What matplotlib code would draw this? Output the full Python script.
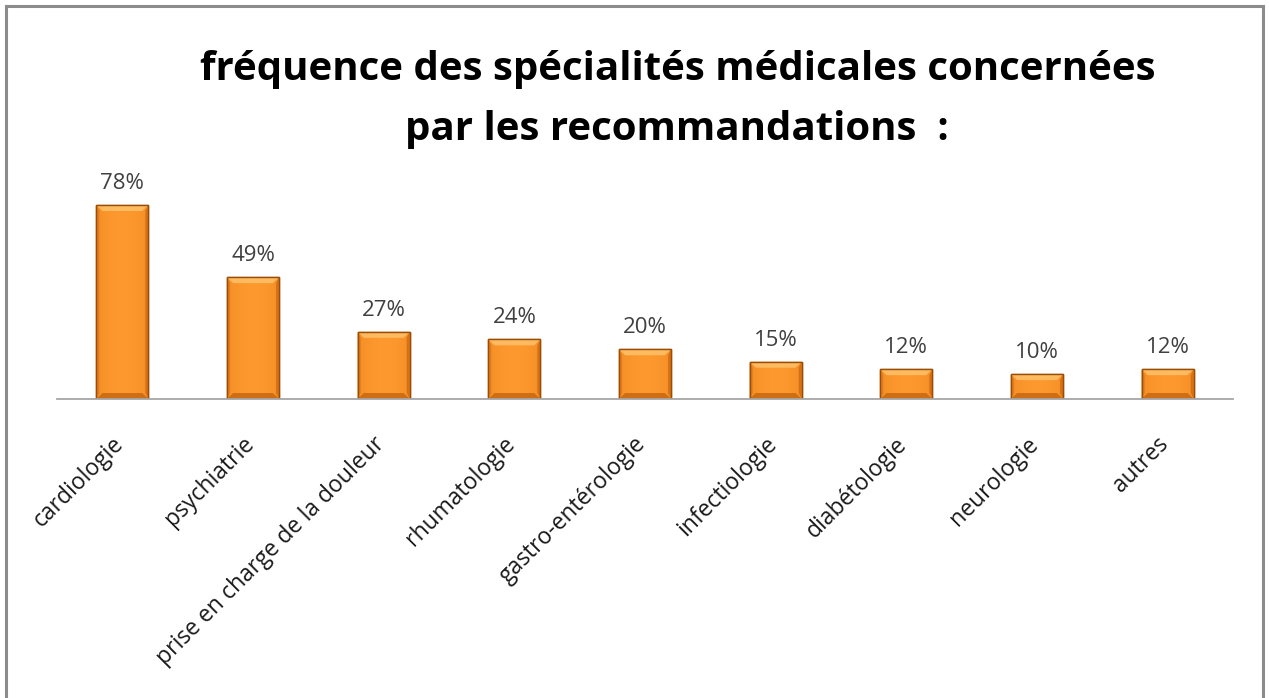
import numpy as np
import matplotlib
matplotlib.use("Agg")
import matplotlib.pyplot as plt
import matplotlib.transforms as mtransforms
from matplotlib.patches import Rectangle, Polygon
from matplotlib.lines import Line2D

categories = ["cardiologie", "psychiatrie", "prise en charge de la douleur",
              "rhumatologie", "gastro-entérologie", "infectiologie",
              "diabétologie", "neurologie", "autres"]
values = [78, 49, 27, 24, 20, 15, 12, 10, 12]
value_labels = ["78%", "49%", "27%", "24%", "20%", "15%", "12%", "10%", "12%"]
title = "fréquence des spécialités médicales concernées\npar les recommandations  :"

W, H = 1269, 698
fig = plt.figure(figsize=(W / 100, H / 100), dpi=100)
fig.patch.set_facecolor("white")

# frame border (left, top, right)
for xs_, ys_ in [([6 / W, 6 / W], [0, 1 - 6 / H]),
                 ([6 / W, 1263 / W], [1 - 6 / H, 1 - 6 / H]),
                 ([1263 / W, 1263 / W], [0, 1 - 6 / H])]:
    fig.add_artist(Line2D(xs_, ys_, transform=fig.transFigure, color="#8c8c8c", lw=2.2))

x0, x1 = 57, 1233
ybase = 399
px_per_unit = 2.487
ymax = 100
ax = fig.add_axes([x0 / W, (H - ybase) / H, (x1 - x0) / W, ymax * px_per_unit / H])
ax.set_xlim(-0.5, len(categories) - 0.5)
ax.set_ylim(0, ymax)
ax.patch.set_alpha(0)
for s in ["top", "right", "left"]:
    ax.spines[s].set_visible(False)
ax.spines["bottom"].set_color("#a6a6a6")
ax.spines["bottom"].set_linewidth(1.3)
ax.set_yticks([])

xs = np.arange(len(categories))
bw = 0.40
bars = ax.bar(xs, values, width=bw, color="#F58F26", edgecolor="#9a4d05",
              linewidth=1.0, zorder=2)

grad = np.linspace(0, 1, 64)
hprof = 1 - 0.35 * (np.abs(grad - 0.5) * 2) ** 2
for b in bars:
    bx, by = b.get_x(), b.get_y()
    bwid, bh = b.get_width(), b.get_height()
    img = np.zeros((2, 64, 3))
    base = np.array([0.99, 0.60, 0.18])
    dark = np.array([0.90, 0.48, 0.08])
    for i in range(64):
        img[:, i, :] = dark + (base - dark) * hprof[i]
    im = ax.imshow(img, extent=[bx, bx + bwid, by, by + bh], aspect="auto",
                   zorder=2.1, interpolation="bicubic")
    im.set_clip_path(b)
    bev_x = bwid * 0.12
    bev_y = min(6 / px_per_unit, bh / 3)
    top = Polygon([[bx, by + bh], [bx + bwid, by + bh], [bx + bwid - bev_x, by + bh - bev_y],
                   [bx + bev_x, by + bh - bev_y]], closed=True, facecolor="#ffc46e",
                  edgecolor="none", alpha=0.8, zorder=2.2)
    bot = Polygon([[bx, by], [bx + bwid, by], [bx + bwid - bev_x, by + bev_y],
                   [bx + bev_x, by + bev_y]], closed=True, facecolor="#c0620e",
                  edgecolor="none", alpha=0.75, zorder=2.2)
    left = Polygon([[bx, by], [bx, by + bh], [bx + bev_x * 0.5, by + bh - bev_y],
                    [bx + bev_x * 0.5, by + bev_y]], closed=True, facecolor="#d9731a",
                   edgecolor="none", alpha=0.7, zorder=2.2)
    right = Polygon([[bx + bwid, by], [bx + bwid, by + bh], [bx + bwid - bev_x * 0.5, by + bh - bev_y],
                     [bx + bwid - bev_x * 0.5, by + bev_y]], closed=True, facecolor="#c96510",
                    edgecolor="none", alpha=0.7, zorder=2.2)
    for p in (top, bot, left, right):
        ax.add_patch(p)
    ax.add_patch(Rectangle((bx, by), bwid, bh, facecolor="none", edgecolor="#9a4d05",
                           linewidth=1.0, zorder=2.3))

for x, v, lab in zip(xs, values, value_labels):
    ax.annotate(lab, (x, v), xytext=(0, 8), textcoords="offset points",
                ha="center", va="bottom", fontsize=16, color="#404040",
                family="Open Sans")

ax.set_xticks(xs)
ax.set_xticklabels(categories, rotation=45, ha="right", rotation_mode="anchor",
                   fontsize=16.5, color="#1a1a1a", family="Open Sans")
ax.tick_params(axis="x", length=0, pad=24)
shift = mtransforms.ScaledTranslation(-11 / 100, 0, fig.dpi_scale_trans)
for lbl in ax.get_xticklabels():
    lbl.set_transform(lbl.get_transform() + shift)

fig.text(678 / W, 1 - 80 / H, title.split("\n")[0], ha="center", va="baseline",
         fontsize=29, fontweight="bold", family="Open Sans", color="black")
fig.text(677 / W, 1 - 140 / H, title.split("\n")[1], ha="center", va="baseline",
         fontsize=29, fontweight="bold", family="Open Sans", color="black")

fig.savefig("out.png", dpi=100)
